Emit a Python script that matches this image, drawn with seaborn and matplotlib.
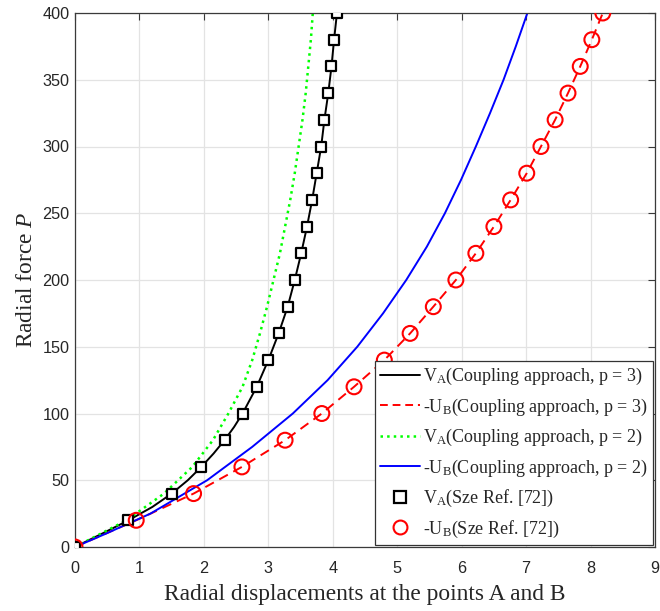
import matplotlib
matplotlib.use("Agg")
import matplotlib.pyplot as plt
import seaborn as sns
from matplotlib.lines import Line2D

# ---- data ----
force = [0, 20, 40, 60, 80, 100, 120, 140, 160, 180, 200,
         220, 240, 260, 280, 300, 320, 340, 360, 380, 400]
force_p3 = [0, 10, 20, 30, 40, 50, 60, 70, 80, 90, 100, 120, 140, 160, 180, 200,
            220, 240, 260, 280, 300, 320, 340, 360, 380, 400]
va_p3 = [0, 0.42, 0.83, 1.20, 1.50, 1.75, 1.96, 2.15, 2.32, 2.47, 2.60, 2.82, 3.00,
         3.16, 3.30, 3.41, 3.51, 3.60, 3.68, 3.75, 3.82, 3.87, 3.93, 3.98, 4.02, 4.065]
ub_p3 = [0, 0.95, 1.84, 2.59, 3.26, 3.83, 4.33, 4.80, 5.20, 5.56, 5.91,
         6.22, 6.50, 6.76, 7.01, 7.23, 7.45, 7.65, 7.84, 8.02, 8.19]
va_p2 = [0, 0.80, 1.38, 1.82, 2.14, 2.38, 2.60, 2.75, 2.87, 2.98, 3.08,
         3.18, 3.26, 3.34, 3.41, 3.47, 3.53, 3.58, 3.62, 3.66, 3.69]
force_ub_p2 = [0, 10, 25, 50, 75, 100, 125, 150, 175, 200, 225, 250,
               275, 300, 325, 350, 375, 400]
ub_p2 = [0, 0.48, 1.17, 2.05, 2.75, 3.38, 3.92, 4.38, 4.78, 5.14, 5.46, 5.74,
         5.99, 6.22, 6.44, 6.65, 6.84, 7.02]
va_sze = [0, 0.83, 1.50, 1.96, 2.32, 2.60, 2.82, 3.00, 3.16, 3.30, 3.41,
          3.51, 3.60, 3.68, 3.75, 3.82, 3.87, 3.93, 3.98, 4.02, 4.065]
ub_sze = [0, 0.95, 1.84, 2.59, 3.26, 3.83, 4.33, 4.80, 5.20, 5.56, 5.91,
          6.22, 6.50, 6.76, 7.01, 7.23, 7.45, 7.65, 7.84, 8.02, 8.19]
x_ticks = [0, 1, 2, 3, 4, 5, 6, 7, 8, 9]
y_ticks = [0, 50, 100, 150, 200, 250, 300, 350, 400]
labels = [
    r"V$_\mathregular{A}$(Coupling approach, p = 3)",
    r"-U$_\mathregular{B}$(Coupling approach, p = 3)",
    r"V$_\mathregular{A}$(Coupling approach, p = 2)",
    r"-U$_\mathregular{B}$(Coupling approach, p = 2)",
    r"V$_\mathregular{A}$(Sze Ref. [72])",
    r"-U$_\mathregular{B}$(Sze Ref. [72])",
]

sns.set_style("whitegrid")
plt.rcParams["font.family"] = ["Liberation Sans", "DejaVu Sans"]
plt.rcParams["mathtext.fontset"] = "custom"
plt.rcParams["mathtext.rm"] = "Liberation Serif"
plt.rcParams["mathtext.it"] = "Liberation Serif:italic"
plt.rcParams["mathtext.default"] = "regular"

fig = plt.figure(figsize=(6.6, 6.11), dpi=100)
ax = fig.add_axes([75 / 660, 1 - 547 / 611, 580 / 660, 534 / 611])

lw = 1.4
sns.lineplot(x=va_p3, y=force_p3, sort=False, estimator=None, ax=ax,
             color="black", linewidth=lw)
sns.lineplot(x=ub_p3, y=force, sort=False, estimator=None, ax=ax,
             color="red", linewidth=lw)
ax.lines[-1].set_dashes([5, 3.2])
sns.lineplot(x=va_p2, y=force, sort=False, estimator=None, ax=ax,
             color="#00ff00", linewidth=1.8)
ax.lines[-1].set_linestyle(":")
sns.lineplot(x=ub_p2, y=force_ub_p2, sort=False, estimator=None, ax=ax,
             color="blue", linewidth=lw)
sns.scatterplot(x=va_sze, y=force, ax=ax, marker="s", s=62,
                facecolor="white", edgecolor="black", linewidth=1.6, zorder=5)
sns.scatterplot(x=ub_sze, y=force, ax=ax, marker="o", s=115,
                facecolor="none", edgecolor="red", linewidth=1.5, zorder=5)

ax.set_xlim(0, 9)
ax.set_ylim(0, 400)
ax.set_xticks(x_ticks)
ax.set_yticks(y_ticks)
ax.grid(True, color="#e3e3e3", linewidth=0.9)
for s in ax.spines.values():
    s.set_visible(True)
    s.set_color("#3a3a3a")
    s.set_linewidth(0.9)
ax.tick_params(direction="in", length=5, width=0.8, color="#3a3a3a",
               top=True, right=True, labelsize=11.7, labelcolor="#262626")
ax.tick_params(axis="x", pad=10)
ax.tick_params(axis="y", pad=4)

serif = ["Liberation Serif", "DejaVu Serif"]
ax.set_xlabel("Radial displacements at the points A and B", family=serif,
              fontsize=16.8, color="#262626", labelpad=6)
ax.set_ylabel(r"Radial force $\mathit{P}$", family=serif,
              fontsize=16.8, color="#262626", labelpad=4)

handles = [
    Line2D([], [], color="black", lw=lw),
    Line2D([], [], color="red", lw=lw, dashes=[4, 2.5]),
    Line2D([], [], color="#00ff00", lw=1.8, ls=":"),
    Line2D([], [], color="blue", lw=lw),
    Line2D([], [], ls="none", marker="s", ms=8, mfc="white", mec="black", mew=1.6),
    Line2D([], [], ls="none", marker="o", ms=10, mfc="none", mec="red", mew=1.5),
]
leg = ax.legend(handles, labels, loc="lower right", bbox_to_anchor=(1.0, 0.0),
                borderaxespad=0.1, prop={"family": serif, "size": 13},
                frameon=True, fancybox=False, framealpha=1, edgecolor="#333333",
                handlelength=2.2, handletextpad=0.15, labelspacing=0.52,
                borderpad=0.3)
leg.get_frame().set_linewidth(0.9)

fig.savefig("out.png", dpi=100)
